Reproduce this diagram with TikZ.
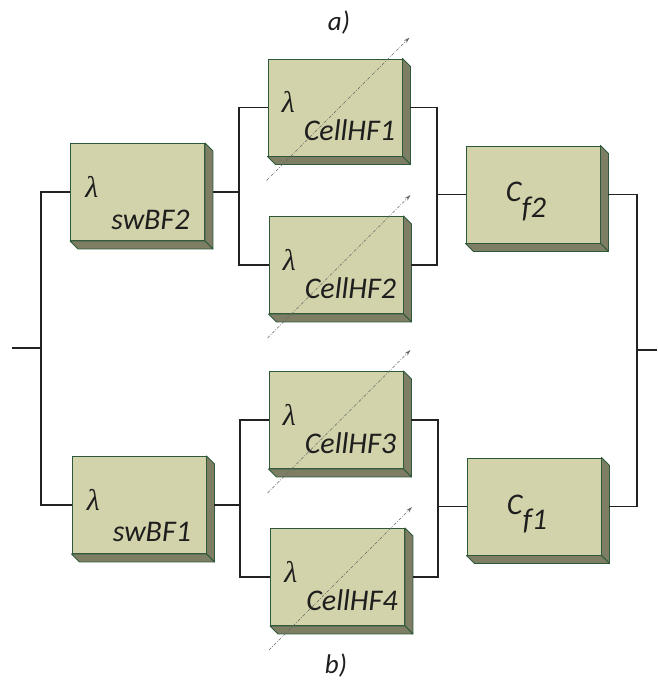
\documentclass[tikz,border=0pt]{standalone}
\usepackage{fontspec}
\setmainfont{Carlito}
\newfontfamily\lamfont{Liberation Serif}
\usetikzlibrary{arrows.meta}
\definecolor{frontc}{RGB}{210,211,170}
\definecolor{sidec}{RGB}{126,126,100}
\definecolor{bordc}{RGB}{45,88,58}
\definecolor{wirec}{RGB}{34,34,34}
\definecolor{txtc}{RGB}{30,30,30}
\begin{document}
\begin{tikzpicture}[x=1pt,y=-1pt,
  blk/.style={draw=bordc, fill=frontc, line width=0.9pt, minimum width=134pt, minimum height=97pt, inner sep=0pt},
  depth/.style={draw=bordc, fill=sidec, line width=0.9pt, line join=round},
  wire/.style={draw=wirec, line width=1.8pt},
  probe/.style={draw=black!60, line width=0.5pt, dash pattern=on 3pt off 1.5pt on 0.8pt off 1.5pt, -{Stealth[length=6pt,width=3.5pt]}},
  lbl/.style={font=\fontsize{30}{32}\selectfont\itshape, text=txtc, inner sep=0pt, anchor=base west},
  lamb/.style={font=\lamfont\fontsize{30}{32}\selectfont\itshape, text=txtc, inner sep=0pt, anchor=base west},
  captxt/.style={font=\fontsize{27}{29}\selectfont\itshape, text=txtc, inner sep=0pt}
]
\useasboundingbox (0,0) rectangle (657,682);

% blocks
\node[blk] (swBF2) at (137.5,192) {};
\node[blk] (swBF1) at (139,505) {};
\node[blk] (HF1) at (335,107.5) {};
\node[blk] (HF2) at (336,265) {};
\node[blk] (HF3) at (336,420) {};
\node[blk] (HF4) at (337.5,577) {};
\node[blk] (Cf2) at (533,194.5) {};
\node[blk] (Cf1) at (534,506.5) {};

% 3D depth faces
\foreach \n in {swBF2,swBF1,HF1,HF2,HF3,HF4,Cf2,Cf1}{
  \filldraw[depth] (\n.south east) -- (\n.north east) -- ++(8,8) -- ([shift={(8,8)}]\n.south east) -- cycle;
  \filldraw[depth] (\n.south east) -- (\n.south west) -- ++(8,8) -- ([shift={(8,8)}]\n.south east) -- cycle;
}

% bus coordinates
\coordinate (in) at (12,348);
\coordinate (L) at (41,348);
\coordinate (B1) at (239,192);
\coordinate (B2) at (437,194.5);
\coordinate (B3) at (240,505);
\coordinate (B4) at (438,506.5);
\coordinate (R) at (637,350);
\coordinate (out) at (657,350);

% wires
\draw[wire] (in) -- (L);
\draw[wire] (swBF2.west) -| (L) |- (swBF1.west);
\draw[wire] ([xshift=8pt]swBF2.east) -- (B1);
\draw[wire] (HF1.west) -| (B1) |- (HF2.west);
\draw[wire] ([xshift=8pt]HF1.east) -| (B2) |- ([xshift=8pt]HF2.east);
\draw[wire] (B2) -- (Cf2.west);
\draw[wire] ([xshift=8pt]swBF1.east) -- (B3);
\draw[wire] (HF3.west) -| (B3) |- (HF4.west);
\draw[wire] ([xshift=8pt]HF3.east) -| (B4) |- ([xshift=8pt]HF4.east);
\draw[wire] (B4) -- (Cf1.west);
\draw[wire] ([xshift=8pt]Cf2.east) -| (R) |- ([xshift=8pt]Cf1.east);
\draw[wire] (R) -- (out);

% labels
\node[lamb] (swBF2-l) at ([shift={(15,54)}]swBF2.north west) {λ};
\node[lbl] (swBF2-s) at ([shift={(41,86)}]swBF2.north west) {swBF2};
\node[lamb] (swBF1-l) at ([shift={(15,54)}]swBF1.north west) {λ};
\node[lbl] (swBF1-s) at ([shift={(41,85)}]swBF1.north west) {swBF1};
\foreach \n/\t in {HF1/CellHF1,HF2/CellHF2,HF3/CellHF3,HF4/CellHF4}{
  \node[lamb] (\n-l) at ([shift={(14,54)}]\n.north west) {λ};
  \node[lbl] (\n-s) at ([shift={(36,82)}]\n.north west) {\t};
}
\node[lbl] (Cf2-c) at ([shift={(40,56)}]Cf2.north west) {C};
\node[lbl] (Cf2-s) at ([shift={(56,72)}]Cf2.north west) {f2};
\node[lbl] (Cf1-c) at ([shift={(40,57)}]Cf1.north west) {C};
\node[lbl] (Cf1-s) at ([shift={(56,72)}]Cf1.north west) {f1};

% probe arrows
\foreach \n in {HF1,HF2,HF3,HF4}{
  \draw[probe] ([shift={(-1,24)}]\n.south west) -- ([shift={(7,-21)}]\n.north east);
}

\node[captxt] (capa) at (339,22) {a)};
\node[captxt] (capb) at (336,665) {b)};
\end{tikzpicture}
\end{document}
